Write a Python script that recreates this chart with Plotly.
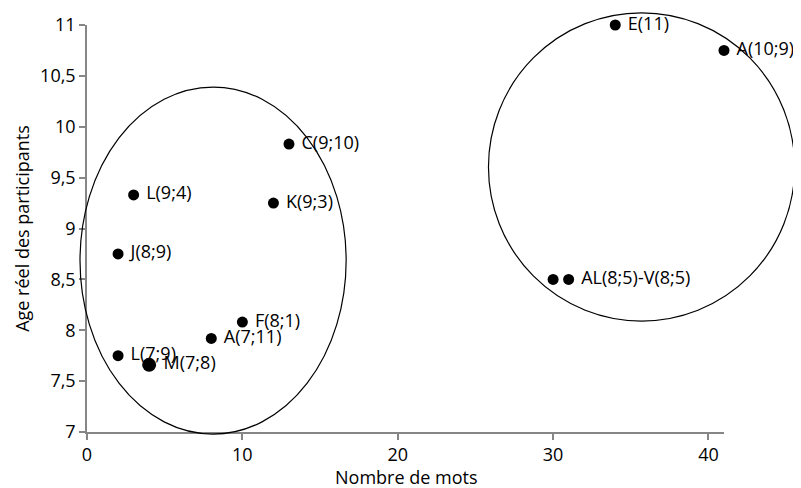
import plotly.graph_objects as go

# Data
words = [2, 3, 13, 12, 10, 8, 2, 4, 34, 41, 30, 31]
ages = [8.75, 9.33, 9.83, 9.25, 8.08, 7.92, 7.75, 7.66, 11.0, 10.75, 8.5, 8.5]
labels = ["J(8;9)", "L(9;4)", "C(9;10)", "K(9;3)", "F(8;1)", "A(7;11)",
          "L(7;9)", "M(7;8)", "E(11)", "A(10;9)", "", "AL(8;5)-V(8;5)"]
x_ticks = [0, 10, 20, 30, 40]
y_ticks = [7, 7.5, 8, 8.5, 9, 9.5, 10, 10.5, 11]
y_tick_text = ["7", "7,5", "8", "8,5", "9", "9,5", "10", "10,5", "11"]
x_title = "Nombre de mots"
y_title = "Age réel des participants"

# Group outlines (data coordinates)
group_left = dict(x0=-0.45, x1=16.68, y0=6.98, y1=10.39)
group_right = dict(x0=25.84, x1=45.55, y0=8.09, y1=11.12)

X_RANGE = [0, 41]
Y_RANGE = [7, 11]

W, H = 801, 488
ML, MR, MT, MB = 79, 85, 17, 64

font_family = "Open Sans, Lato, sans-serif"
FS = 18

sizes = [11] * len(words)
sizes[7] = 14

fig = go.Figure()
fig.add_trace(go.Scatter(
    x=words, y=ages, mode="markers+text",
    text=[" " + t if t else "" for t in labels],
    textposition="middle right",
    textfont=dict(family=font_family, size=FS, color="#000000"),
    marker=dict(color="#000000", size=sizes, opacity=1, line=dict(width=0)),
    cliponaxis=False,
    showlegend=False,
))


def to_paper_x(v):
    return (v - X_RANGE[0]) / (X_RANGE[1] - X_RANGE[0])


def to_paper_y(v):
    return (v - Y_RANGE[0]) / (Y_RANGE[1] - Y_RANGE[0])


for g in (group_left, group_right):
    fig.add_shape(type="circle", xref="paper", yref="paper",
                  x0=to_paper_x(g["x0"]), x1=to_paper_x(g["x1"]),
                  y0=to_paper_y(g["y0"]), y1=to_paper_y(g["y1"]),
                  line=dict(color="#000000", width=1.2))

fig.add_annotation(text=x_title, xref="paper", yref="paper", x=0.5, y=0,
                   yshift=-45, xanchor="center", yanchor="middle",
                   showarrow=False,
                   font=dict(family=font_family, size=FS, color="#000000"))

axis_common = dict(showgrid=False, zeroline=False, showline=True,
                   linecolor="#868686", linewidth=1.5, automargin=False,
                   ticks="outside", ticklen=6, tickcolor="#868686", tickwidth=1.5,
                   tickfont=dict(family=font_family, size=FS, color="#000000"))

fig.update_layout(
    template="none",
    width=W, height=H,
    margin=dict(l=ML, r=MR, t=MT, b=MB),
    plot_bgcolor="white", paper_bgcolor="white",
    font=dict(family=font_family, color="#000000"),
    xaxis=dict(range=X_RANGE, tickvals=x_ticks,
               ticktext=[str(v) for v in x_ticks],
               **axis_common),
    yaxis=dict(range=Y_RANGE, tickvals=y_ticks, ticktext=y_tick_text,
               title=dict(text=y_title, standoff=6,
                          font=dict(family=font_family, size=FS, color="#000000")),
               **axis_common),
)

fig.write_html("out.html")
